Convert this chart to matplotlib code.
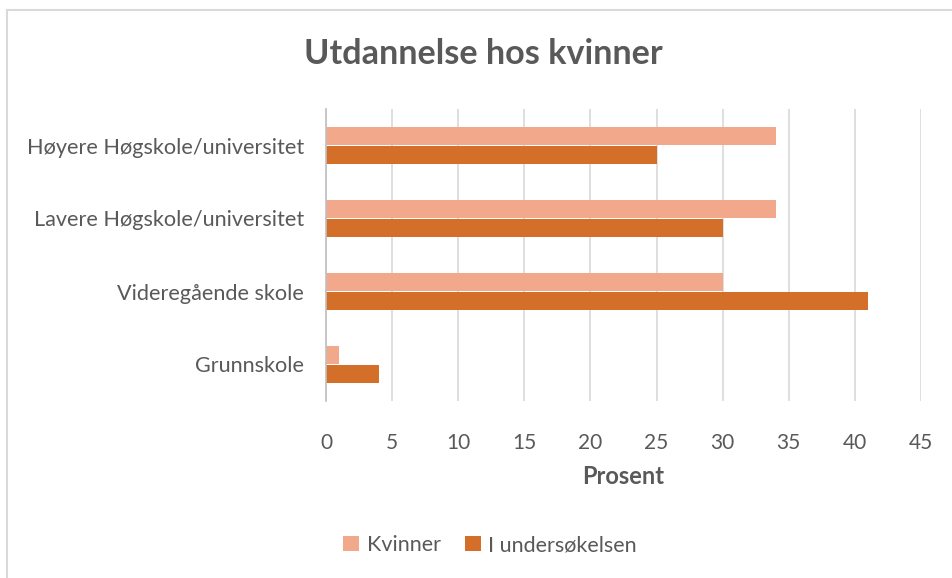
import numpy as np
import matplotlib
matplotlib.use("Agg")
import matplotlib.pyplot as plt
from matplotlib.lines import Line2D

# === Data ===
categories = ["Høyere Høgskole/universitet", "Lavere Høgskole/universitet",
              "Videregående skole", "Grunnskole"]
kvinner = [34, 34, 30, 1]
undersokelsen = [25, 30, 41, 4]
xticks = [0, 5, 10, 15, 20, 25, 30, 35, 40, 45]

light = "#F1A88B"
dark = "#D46F2A"
text_col = "#595959"

plt.rcParams["font.family"] = ["Lato", "DejaVu Sans"]

fig = plt.figure(figsize=(9.52, 5.78), dpi=100)
ax = fig.add_axes([326 / 952, 1 - 401 / 578, (921 - 326) / 952, (401 - 109) / 578])

y = np.arange(len(categories))
h = 0.26
ax.barh(y - h / 2, kvinner, height=h, color=light, label="Kvinner", zorder=3)
ax.barh(y + h / 2, undersokelsen, height=h, color=dark, label="I undersøkelsen", zorder=3)

ax.set_ylim(len(categories) - 0.5, -0.5)
ax.set_xlim(0, 45)
ax.set_xticks(xticks)
ax.set_yticks(y)
ax.set_yticklabels(categories)
ax.tick_params(axis="both", length=0, colors=text_col)
ax.tick_params(axis="y", pad=16, labelsize=15.6)
ax.tick_params(axis="x", pad=23, labelsize=15)

ax.grid(axis="x", color="#D9D9D9", linewidth=1.2, zorder=0)
for s in ["top", "right", "bottom"]:
    ax.spines[s].set_visible(False)
ax.spines["left"].set_color("#BFBFBF")
ax.spines["left"].set_linewidth(1.2)
ax.spines["left"].set_zorder(4)

ax.set_xlabel("Prosent", fontsize=17, fontweight="bold", color=text_col, labelpad=9)

fig.text(483 / 952, 1 - 54 / 578, "Utdannelse hos kvinner", ha="center", va="center",
         fontsize=24.6, fontweight="bold", color=text_col)

fig.legend(loc="center", bbox_to_anchor=(490 / 952, 1 - 545 / 578), ncol=2,
           frameon=False, fontsize=15.5, handlelength=0.75, handleheight=0.75,
           handletextpad=0.35, columnspacing=1.1, labelcolor=text_col)

# chart border
fig.add_artist(Line2D([7 / 952, 1], [1 - 10 / 578, 1 - 10 / 578], color="#D9D9D9", linewidth=1.5))
fig.add_artist(Line2D([7 / 952, 7 / 952], [0, 1 - 10 / 578], color="#D9D9D9", linewidth=1.5))

fig.savefig("out.png", dpi=100)
